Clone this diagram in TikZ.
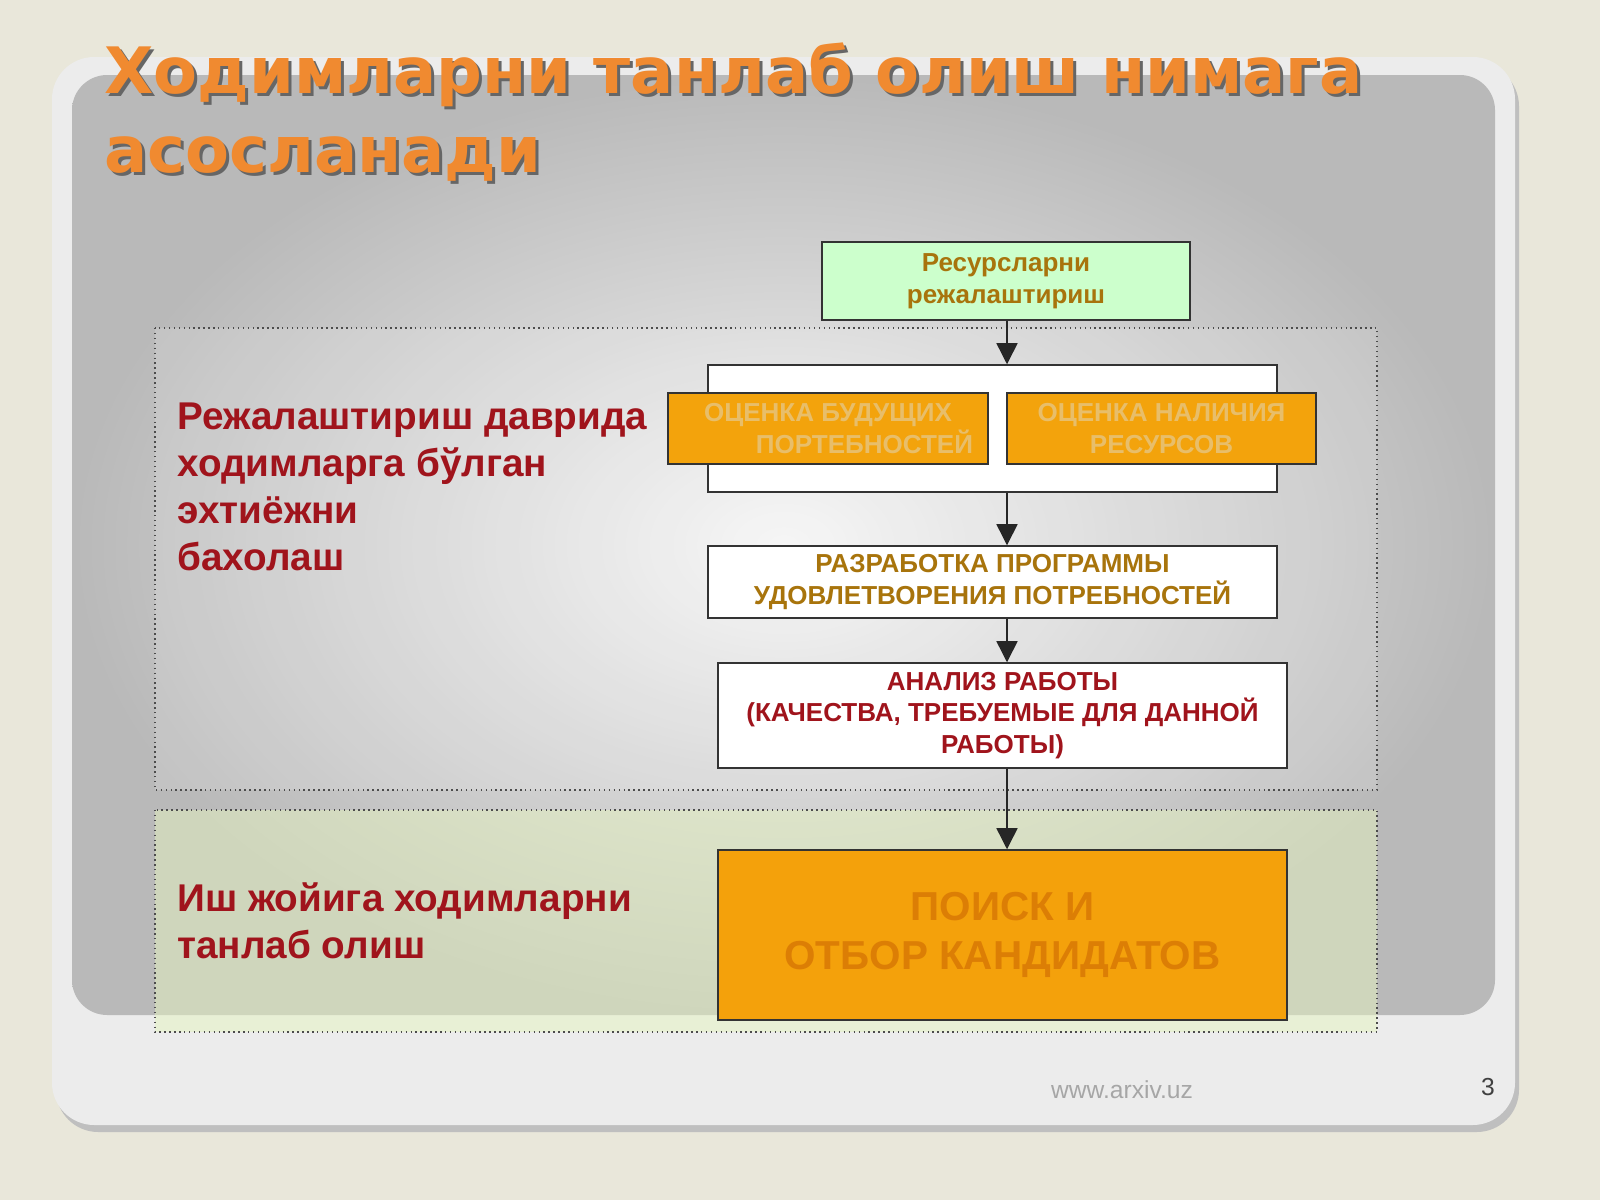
\documentclass[tikz,border=0pt]{standalone}
\usepackage{fontspec}
\setmainfont{Liberation Sans}
\newfontfamily\titlefont{DejaVu Sans}
\usetikzlibrary{arrows.meta}
\definecolor{beige}{HTML}{E9E7DA}
\definecolor{titleor}{HTML}{F08A30}
\definecolor{darkred}{HTML}{A0141C}
\definecolor{gold}{HTML}{A8740C}
\definecolor{boxor}{HTML}{F3A30C}
\definecolor{paleor}{HTML}{E8BE6A}
\definecolor{lightgreen}{HTML}{CCFFCC}
\tikzset{
  box/.style={draw=black!80, fill=white, align=center, font=\bfseries\fontsize{7.4}{9}\selectfont, inner sep=0pt},
  obox/.style={box, fill=boxor, text=paleor},
  zone/.style={draw=black!70, densely dotted},
  side/.style={anchor=north west, align=left, text=darkred, font=\bfseries\fontsize{11}{13.4}\selectfont},
  flow/.style={-{Triangle[length=6pt,width=6pt]}, black!85}
}
\begin{document}
\begin{tikzpicture}[x=0.01cm, y=-0.01cm]
    \useasboundingbox (0,0) rectangle (1600,1200);
    % slide background
    \fill [beige] (0,0) rectangle (1600,1200);
    \fill [black!25, rounded corners=12] (56,64) rectangle (1519,1132);
    \fill [gray!15, rounded corners=12] (52,57) rectangle (1515,1125);
    \shade [inner color=white!92!gray, outer color=gray!55, rounded corners=10] (72,75) rectangle (1495,1015);
    % title
    \node [anchor=north west, align=left, text=black!60, font=\titlefont\bfseries\fontsize{18.2}{22.5}\selectfont] at (95,33) {Ходимларни танлаб олиш нимага\\асосланади};
    \node [anchor=north west, align=left, text=titleor, font=\titlefont\bfseries\fontsize{18.2}{22.5}\selectfont] at (92,30) {Ходимларни танлаб олиш нимага\\асосланади};
    % zones
    \draw [zone, fill=white, fill opacity=0.15] (155,328) rectangle (1377,790);
    \draw [zone, fill=yellow!60!green!25!white, fill opacity=0.5] (155,810) rectangle (1377,1032);
    \node [side] (zone1) at (165,390) {Режалаштириш даврида\\ходимларга бўлган\\эхтиёжни\\бахолаш};
    \node [side] (zone2) at (165,870) {Иш жойига ходимларни\\танлаб олиш};
    % boxes
    \node [box, fill=lightgreen, text=gold, minimum width=3.68cm, minimum height=0.78cm] (plan) at (1006,281) {Ресурсларни\\режалаштириш};
    \node [box, minimum width=5.69cm, minimum height=1.27cm] (need) at (992.5,428.5) {};
    \node [obox, minimum width=3.2cm, minimum height=0.71cm] (future) at (828,428.5) {ОЦЕНКА БУДУЩИХ\\\hspace{2.8em}ПОРТЕБНОСТЕЙ};
    \node [obox, minimum width=3.09cm, minimum height=0.71cm] (avail) at (1161.5,428.5) {ОЦЕНКА НАЛИЧИЯ\\РЕСУРСОВ};
    \node [box, text=gold, minimum width=5.69cm, minimum height=0.72cm] (prog) at (992.5,582) {РАЗРАБОТКА ПРОГРАММЫ\\УДОВЛЕТВОРЕНИЯ ПОТРЕБНОСТЕЙ};
    \node [box, text=darkred, minimum width=5.69cm, minimum height=1.05cm] (work) at (1002.5,715.5) {АНАЛИЗ РАБОТЫ\\(КАЧЕСТВА, ТРЕБУЕМЫЕ ДЛЯ ДАННОЙ\\РАБОТЫ)};
    \node [box, fill=boxor!95!orange, text=orange!55!boxor!88!black, font=\bfseries\fontsize{11.5}{14}\selectfont, minimum width=5.69cm, minimum height=1.7cm] (search) at (1002.5,935) {ПОИСК И\\ОТБОР КАНДИДАТОВ};
    % connectors
    \draw [flow] (plan.south -| 1007,0) -- (need.north -| 1007,0);
    \draw [flow] (need.south -| 1007,0) -- (prog.north -| 1007,0);
    \draw [flow] (prog.south -| 1007,0) -- (work.north -| 1007,0);
    \draw [flow] (work.south -| 1007,0) -- (search.north -| 1007,0);
    % footer
    \node [text=gray!70, font=\fontsize{7}{8}\selectfont] (site) at (1122,1090) {www.arxiv.uz};
    \node [text=black!75, font=\fontsize{7}{8}\selectfont] (page) at (1488,1087) {3};
\end{tikzpicture}
\end{document}
